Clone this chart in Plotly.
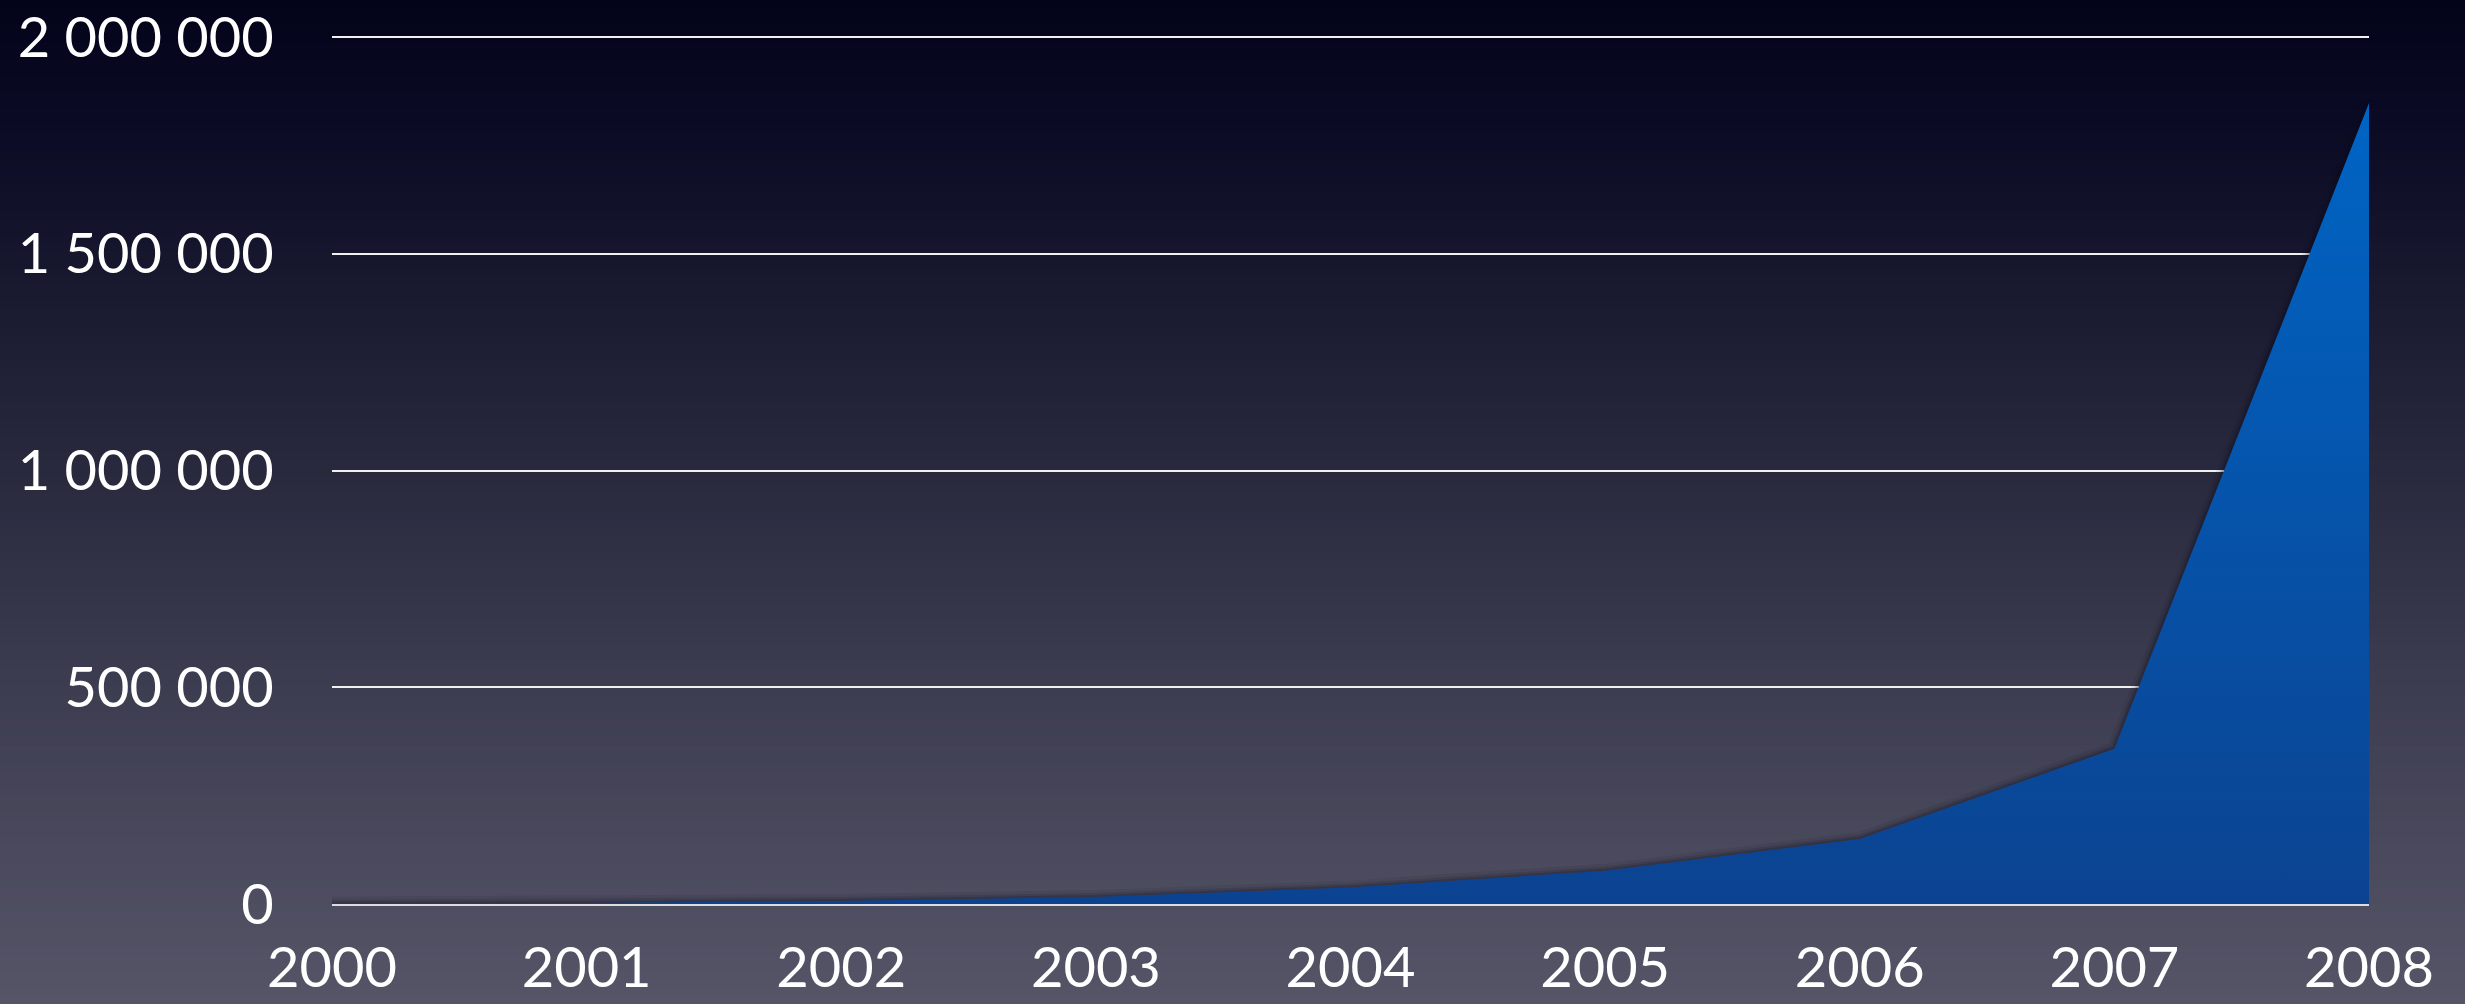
import plotly.graph_objects as go

years = [2000, 2001, 2002, 2003, 2004, 2005, 2006, 2007, 2008]
values = [500, 2500, 7000, 16000, 38000, 77000, 150000, 358000, 1848000]
y_ticks = [0, 500000, 1000000, 1500000, 2000000]
y_tick_text = ["0", "500 000", "1 000 000", "1 500 000", "2 000 000"]
x_tick_text = [str(y) for y in years]

W, H = 2465, 1004
ML, MR, MT, MB = 332, 96, 35, 100
Y_MAX = 2005000

# background gradient stops (fraction from top, rgb)
bg_stops = [(0.0, (3, 3, 26)), (0.12, (10, 10, 36)), (0.35, (30, 30, 52)),
            (0.65, (58, 58, 78)), (1.0, (86, 85, 104))]

def bg_color(f):
    for (f0, c0), (f1, c1) in zip(bg_stops[:-1], bg_stops[1:]):
        if f0 <= f <= f1:
            t = (f - f0) / (f1 - f0)
            return "rgb(%d,%d,%d)" % tuple(round(a + (b - a) * t) for a, b in zip(c0, c1))
    return "rgb(%d,%d,%d)" % bg_stops[-1][1]

ph = H - MT - MB
pw = W - ML - MR
shapes = []
n = 120
for i in range(n):
    top_px = H * i / n
    bot_px = H * (i + 1) / n + 1
    y1 = (H - MB - top_px) / ph
    y0 = (H - MB - bot_px) / ph
    shapes.append(dict(type="rect", xref="paper", yref="paper",
                       x0=-ML / pw - 0.01, x1=1 + MR / pw + 0.01,
                       y0=y0, y1=y1, line=dict(width=0),
                       fillcolor=bg_color((i + 0.5) / n), layer="below"))

fig = go.Figure()
# soft shadow along the area edge
for w, a in [(14, 0.08), (8, 0.12), (4, 0.18)]:
    fig.add_trace(go.Scatter(x=years, y=values, mode="lines",
                             line=dict(color="rgba(10,10,25,%.2f)" % a, width=w),
                             hoverinfo="skip", showlegend=False))
fig.add_trace(go.Scatter(
    x=years, y=values, mode="lines", fill="tozeroy",
    line=dict(width=0, color="#0a4a9c"),
    fillgradient=dict(type="vertical",
                      colorscale=[[0, "#0b4391"], [1, "#0064c4"]]),
    showlegend=False,
))

font = dict(family="Lato, 'Open Sans', sans-serif", size=56, color="white")
fig.update_layout(
    width=W, height=H,
    margin=dict(l=ML, r=MR, t=MT, b=MB, autoexpand=False),
    paper_bgcolor="#2a2a40",
    plot_bgcolor="rgba(0,0,0,0)",
    shapes=shapes,
    showlegend=False,
    font=font,
    xaxis=dict(range=[2000, 2008], tickvals=years, ticktext=x_tick_text,
               showgrid=False, zeroline=False, showline=True,
               linecolor="#dcdce0", linewidth=2, automargin=False,
               ticks="outside", ticklen=14, tickcolor="rgba(0,0,0,0)",
               tickfont=font, fixedrange=True),
    yaxis=dict(range=[0, Y_MAX], tickvals=y_ticks, ticktext=y_tick_text,
               showgrid=True, gridcolor="#f0f0f0", gridwidth=2,
               zeroline=False, showline=False, automargin=False,
               ticks="outside", ticklen=46, tickcolor="rgba(0,0,0,0)",
               tickfont=font, fixedrange=True),
)

fig.write_html("out.html")
